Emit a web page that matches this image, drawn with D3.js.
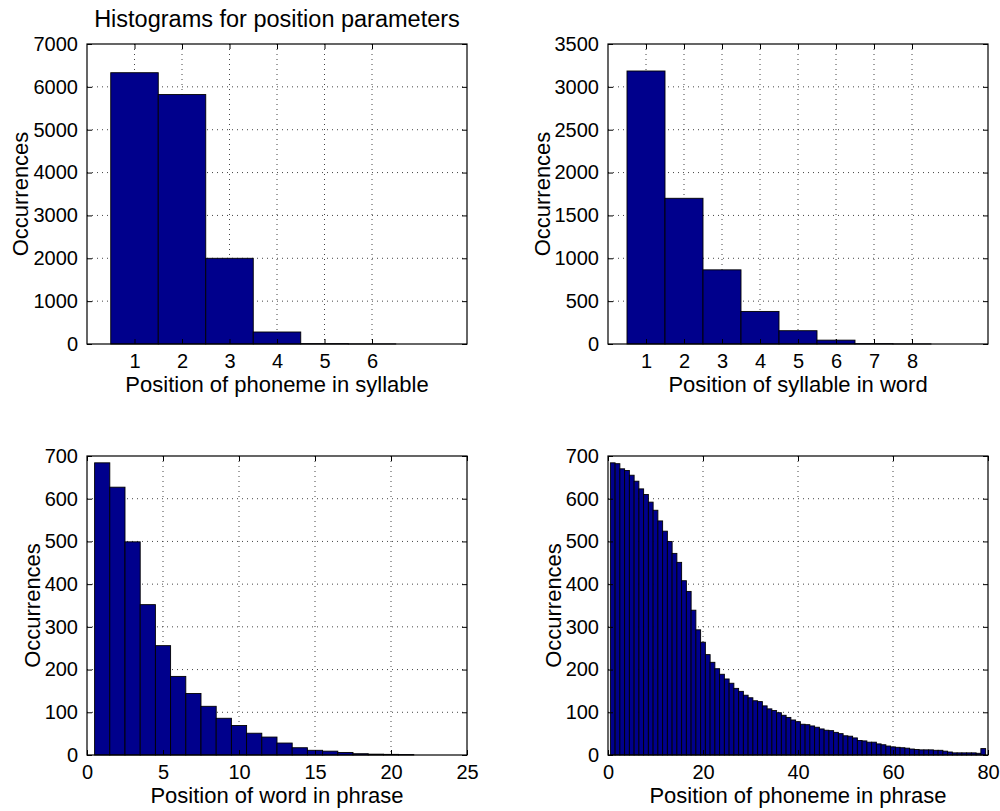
<!DOCTYPE html>
<html>
<head>
<meta charset="utf-8">
<script src="https://cdn.jsdelivr.net/npm/d3@7"></script>
<style>
  body { margin: 0; background: #fff; }
  svg text { font-family: "Liberation Sans", Arial, Helvetica, sans-serif; fill: #000; }
</style>
</head>
<body>
<svg id="chart" width="1000" height="811"></svg>
<script>
// counts
var syllablePos = [1, 2, 3, 4, 5, 6];
var syllableCounts = [6330, 5820, 2000, 280, 8, 2];
var syllableTicks = [1, 2, 3, 4, 5, 6];

var wordPos = [1, 2, 3, 4, 5, 6, 7, 8];
var wordCounts = [3185, 1700, 865, 380, 155, 45, 4, 1];
var wordTicks = [1, 2, 3, 4, 5, 6, 7, 8];

var phrasePos = d3.range(1, 25);
var phraseCounts = [684, 627, 499, 352, 256, 184, 144, 114, 86, 69, 51, 42, 28, 17, 11, 9, 6, 3, 2, 1.5, 1, 0, 0, 0];
var phraseTicks = [0, 5, 10, 15, 20, 25];

var phonPos = d3.range(1, 81);
var phonCounts = [684, 682, 670, 666, 655, 641, 623, 610, 592, 573,
                  548, 524, 500, 472, 451, 408, 383, 339, 293, 264,
                  235, 217, 202, 189, 178, 168, 156, 149, 140, 134,
                  127, 125, 115, 108, 104, 99, 93, 88, 82, 78,
                  72, 71, 68, 65, 61, 58, 57, 53, 50, 45,
                  44, 40, 34, 33, 30, 30, 26, 24, 21, 19,
                  18, 17, 16, 14, 13, 12, 12, 12, 11, 11,
                  9, 7, 5, 5, 5, 5, 5, 4, 15, 0];
var phonTicks = [0, 20, 40, 60, 80];

var svg = d3.select("#chart");
var tickSize = 20;
var labelSize = 22;
var titleSize = 23.5;
var barFill = "#00008c";

var panels = [
  { x: 87, y: 44, w: 380, h: 300, xDom: [0, 8], yDom: [0, 7000], yStep: 1000,
    pos: syllablePos, counts: syllableCounts, xTicks: syllableTicks,
    xLabel: "Position of phoneme in syllable", yLabelOff: 59,
    title: "Histograms for position parameters" },
  { x: 608, y: 44, w: 380, h: 300, xDom: [0, 10], yDom: [0, 3500], yStep: 500,
    pos: wordPos, counts: wordCounts, xTicks: wordTicks,
    xLabel: "Position of syllable in word", yLabelOff: 58 },
  { x: 87, y: 456, w: 380, h: 299, xDom: [0, 25], yDom: [0, 700], yStep: 100,
    pos: phrasePos, counts: phraseCounts, xTicks: phraseTicks,
    xLabel: "Position of word in phrase", yLabelOff: 47 },
  { x: 608, y: 456, w: 380, h: 299, xDom: [0, 80], yDom: [0, 700], yStep: 100,
    pos: phonPos, counts: phonCounts, xTicks: phonTicks,
    xLabel: "Position of phoneme in phrase", yLabelOff: 47 }
];

panels.forEach(function(p) {
  var g = svg.append("g").attr("transform", "translate(" + p.x + "," + p.y + ")");

  var x = d3.scaleLinear().domain(p.xDom).range([0, p.w]);
  var y = d3.scaleLinear().domain(p.yDom).range([p.h, 0]);
  var yTicks = d3.range(p.yDom[0], p.yDom[1] + 1, p.yStep);

  // dotted grid, skipping the box edges
  g.append("g").selectAll("line")
    .data(p.xTicks.filter(function(t) { return t > p.xDom[0] && t < p.xDom[1]; }))
    .enter().append("line")
      .attr("x1", function(d) { return x(d); }).attr("x2", function(d) { return x(d); })
      .attr("y1", 0).attr("y2", p.h)
      .attr("stroke", "#444").attr("stroke-dasharray", "1,4");
  g.append("g").selectAll("line")
    .data(yTicks.filter(function(t) { return t > p.yDom[0] && t < p.yDom[1]; }))
    .enter().append("line")
      .attr("x1", 0).attr("x2", p.w)
      .attr("y1", function(d) { return y(d); }).attr("y2", function(d) { return y(d); })
      .attr("stroke", "#444").attr("stroke-dasharray", "1,4");

  // bars, width one unit, centred on each position
  g.append("g").selectAll("rect")
    .data(p.pos.map(function(v, i) { return { pos: v, count: p.counts[i] }; }))
    .enter().append("rect")
      .attr("x", function(d) { return x(d.pos - 0.5); })
      .attr("width", function(d) { return x(d.pos + 0.5) - x(d.pos - 0.5); })
      .attr("y", function(d) { return y(d.count); })
      .attr("height", function(d) { return y(0) - y(d.count); })
      .attr("fill", barFill)
      .attr("stroke", "#000")
      .attr("stroke-width", 0.9);

  // axes with inward ticks, and mirrored ticks on top and right
  var fmt = d3.format("d");
  var xAxis = d3.axisBottom(x).tickValues(p.xTicks).tickFormat(fmt).tickSizeInner(-5).tickSizeOuter(0).tickPadding(10);
  var yAxis = d3.axisLeft(y).tickValues(yTicks).tickFormat(fmt).tickSizeInner(-5).tickSizeOuter(0).tickPadding(9);

  var xa = g.append("g").attr("transform", "translate(0," + p.h + ")").call(xAxis);
  var ya = g.append("g").call(yAxis);
  g.append("g").call(d3.axisTop(x).tickValues(p.xTicks).tickSizeInner(-5).tickSizeOuter(0).tickFormat(""));
  g.append("g").attr("transform", "translate(" + p.w + ",0)")
    .call(d3.axisRight(y).tickValues(yTicks).tickSizeInner(-5).tickSizeOuter(0).tickFormat(""));

  svg.selectAll(".domain").remove();
  g.selectAll(".tick line").attr("stroke", "#000");
  [xa, ya].forEach(function(a) {
    a.attr("font-size", tickSize).attr("font-family", null);
    a.selectAll("text").style("font-size", tickSize + "px");
  });

  g.append("rect")
    .attr("width", p.w).attr("height", p.h)
    .attr("fill", "none").attr("stroke", "#000").attr("stroke-width", 1.2);

  g.append("text")
    .attr("x", p.w / 2).attr("y", p.h + 48)
    .attr("text-anchor", "middle")
    .style("font-size", labelSize + "px")
    .text(p.xLabel);

  g.append("text")
    .attr("transform", "translate(" + (-p.yLabelOff) + "," + (p.h / 2) + ") rotate(-90)")
    .attr("text-anchor", "middle")
    .style("font-size", labelSize + "px")
    .text("Occurrences");

  if (p.title) {
    g.append("text")
      .attr("x", p.w / 2).attr("y", -17)
      .attr("text-anchor", "middle")
      .style("font-size", titleSize + "px")
      .text(p.title);
  }
});
</script>
</body>
</html>
